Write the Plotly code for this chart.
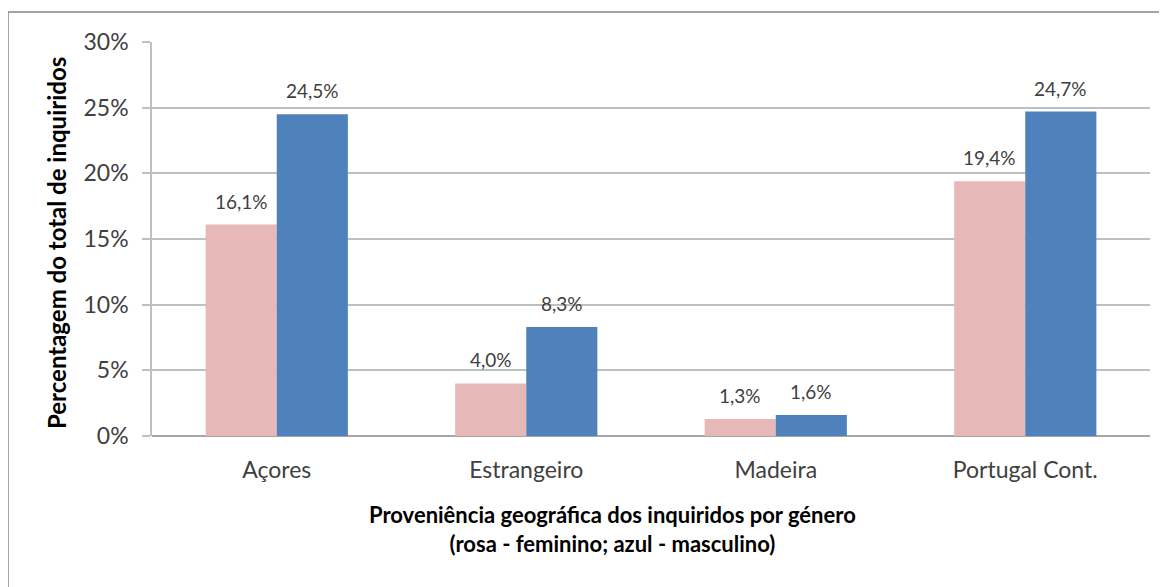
import plotly.graph_objects as go

categories = ["Açores", "Estrangeiro", "Madeira", "Portugal Cont."]
feminino = [16.1, 4.0, 1.3, 19.4]
masculino = [24.5, 8.3, 1.6, 24.7]
y_ticks = [0, 5, 10, 15, 20, 25, 30]
y_ticktext = [f"{v}%" for v in y_ticks]

PINK = "#E6B9B8"
BLUE = "#4F81BD"
FONT = "Lato"
TXT = "#404040"

def fmt(v):
    return f"{v:.1f}".replace(".", ",") + "%"

fig = go.Figure()
fig.add_trace(go.Bar(x=categories, y=feminino, marker=dict(color=PINK, line=dict(width=0)),
                     name="feminino", offsetgroup="f"))
fig.add_trace(go.Bar(x=categories, y=masculino, marker=dict(color=BLUE, line=dict(width=0)),
                     name="masculino", offsetgroup="m"))

annotations = []
for i, c in enumerate(categories):
    for vals, off in ((feminino, -0.5), (masculino, 0.5)):
        annotations.append(dict(
            x=i + off * 0.285, y=vals[i], xref="x", yref="y",
            text=fmt(vals[i]), showarrow=False, yanchor="bottom", yshift=10,
            font=dict(family=FONT, size=19, color=TXT)))

# page body has an 8px margin; layout sized to compensate
OFF = 8
W, H = 1167 - OFF, 587 - OFF
L, T = 152 - OFF, 42 - OFF
R = W - (1150 - OFF)
B = H - (436 - OFF)
pw, ph = W - L - R, H - T - B

def px(x):  # reference pixel -> paper
    return (x - OFF - L) / pw

def py(y):
    return (H - B - (y - OFF)) / ph

annotations.append(dict(
    x=px(56), y=py(243), xref="paper", yref="paper", textangle=-90,
    xanchor="center", yanchor="middle",
    text="<b>Percentagem do total de inquiridos</b>", showarrow=False,
    font=dict(family=FONT, size=24, color="#000000")))
annotations.append(dict(
    x=px(612), y=py(529), xref="paper", yref="paper",
    xanchor="center", yanchor="middle",
    text="<b>Proveniência geográfica dos inquiridos por género</b><br><b>(rosa - feminino; azul - masculino)</b>",
    showarrow=False, align="center",
    font=dict(family=FONT, size=22, color="#000000")))

fig.update_layout(
    width=W, height=H,
    margin=dict(l=L, r=R, t=T, b=B, pad=0),
    paper_bgcolor="white", plot_bgcolor="white",
    barmode="group", bargap=0.43, bargroupgap=0,
    showlegend=False,
    annotations=annotations,
    shapes=[dict(type="rect", xref="paper", yref="paper",
                 x0=px(8), x1=px(1180), y0=py(12), y1=py(620),
                 line=dict(color="#868686", width=1.5))],
    xaxis=dict(showline=False, ticks="", showgrid=False, ticklabelstandoff=18,
               tickfont=dict(family=FONT, size=23, color=TXT)),
    yaxis=dict(range=[0, 30], tickvals=y_ticks, ticktext=y_ticktext,
               showgrid=True, gridcolor="#BFBFBF", gridwidth=1.5,
               showline=True, linecolor="#BFBFBF", linewidth=1.5,
               ticks="outside", ticklen=8, tickcolor="#BFBFBF", tickwidth=1.5,
               ticklabelstandoff=9,
               zeroline=True, zerolinecolor="#A6A6A6", zerolinewidth=1.5,
               tickfont=dict(family=FONT, size=23, color=TXT)),
)
fig.write_html("out.html")
